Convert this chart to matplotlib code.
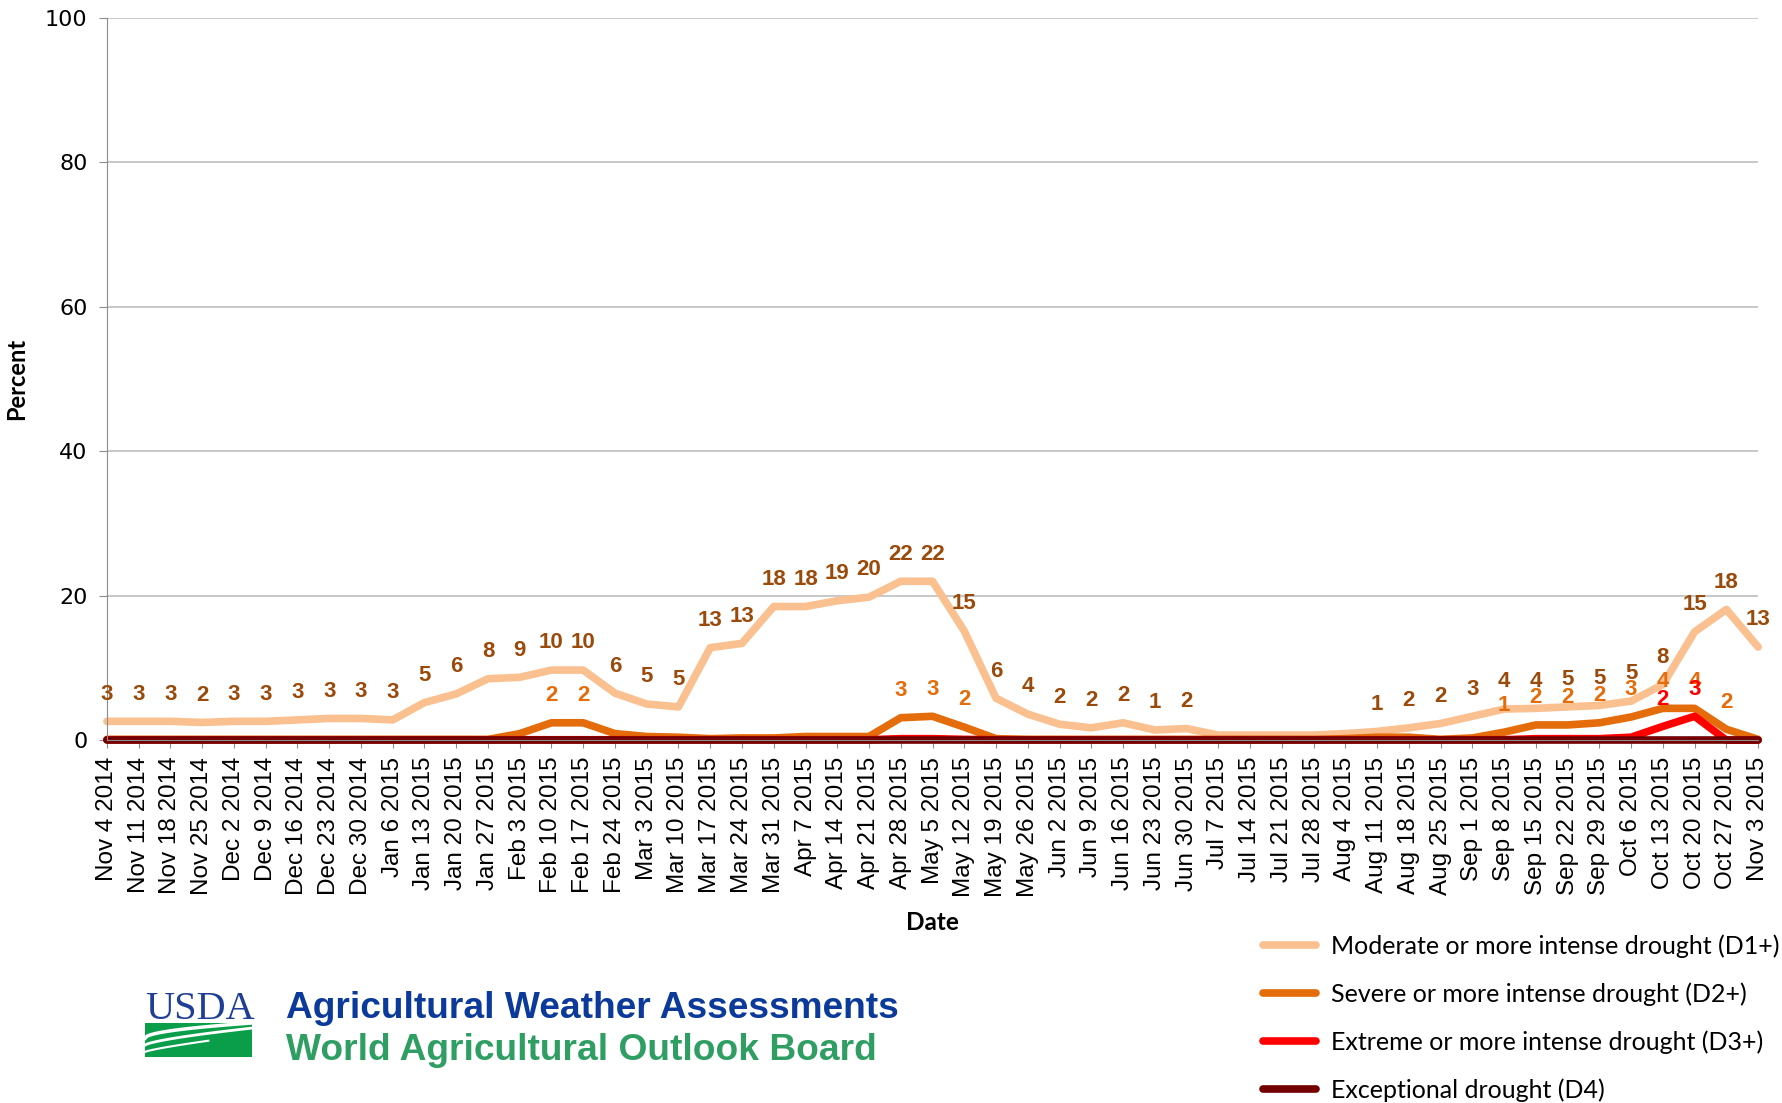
import matplotlib
matplotlib.use('Agg')
import matplotlib.pyplot as plt
import numpy as np
from matplotlib.lines import Line2D
from matplotlib.patches import Rectangle

dates = ['Nov 4 2014', 'Nov 11 2014', 'Nov 18 2014', 'Nov 25 2014', 'Dec 2 2014', 'Dec 9 2014',
         'Dec 16 2014', 'Dec 23 2014', 'Dec 30 2014', 'Jan 6 2015', 'Jan 13 2015', 'Jan 20 2015',
         'Jan 27 2015', 'Feb 3 2015', 'Feb 10 2015', 'Feb 17 2015', 'Feb 24 2015', 'Mar 3 2015',
         'Mar 10 2015', 'Mar 17 2015', 'Mar 24 2015', 'Mar 31 2015', 'Apr 7 2015', 'Apr 14 2015',
         'Apr 21 2015', 'Apr 28 2015', 'May 5 2015', 'May 12 2015', 'May 19 2015', 'May 26 2015',
         'Jun 2 2015', 'Jun 9 2015', 'Jun 16 2015', 'Jun 23 2015', 'Jun 30 2015', 'Jul 7 2015',
         'Jul 14 2015', 'Jul 21 2015', 'Jul 28 2015', 'Aug 4 2015', 'Aug 11 2015', 'Aug 18 2015',
         'Aug 25 2015', 'Sep 1 2015', 'Sep 8 2015', 'Sep 15 2015', 'Sep 22 2015', 'Sep 29 2015',
         'Oct 6 2015', 'Oct 13 2015', 'Oct 20 2015', 'Oct 27 2015', 'Nov 3 2015']

d1 = [2.6, 2.6, 2.6, 2.45, 2.6, 2.6, 2.8, 3.0, 3.0, 2.8, 5.2, 6.4,
      8.5, 8.7, 9.7, 9.7, 6.5, 5.0, 4.6, 12.8, 13.4, 18.5, 18.5, 19.3,
      19.8, 22.0, 22.0, 15.1, 5.8, 3.6, 2.2, 1.7, 2.4, 1.4, 1.6, 0.7,
      0.7, 0.7, 0.7, 0.9, 1.2, 1.7, 2.3, 3.3, 4.3, 4.4, 4.6, 4.8,
      5.4, 7.7, 15.0, 18.1, 12.9]
d2 = [0.1, 0.1, 0.1, 0.1, 0.1, 0.1, 0.1, 0.1, 0.1, 0.1, 0.1, 0.1,
      0.1, 0.9, 2.4, 2.4, 0.9, 0.5, 0.4, 0.2, 0.3, 0.3, 0.5, 0.5,
      0.5, 3.1, 3.3, 1.8, 0.2, 0.1, 0.1, 0.1, 0.1, 0.1, 0.1, 0.1,
      0.1, 0.1, 0.1, 0.2, 0.4, 0.4, 0.1, 0.3, 1.1, 2.1, 2.1, 2.4,
      3.2, 4.4, 4.4, 1.5, 0.1]
d3 = [0.05] * 25 + [0.2, 0.2, 0.1] + [0.05] * 17 + [0.2, 0.2, 0.2, 0.4, 1.9, 3.3, 0.0, 0.0]
d4 = [0.0] * 53

series_names = ['Moderate or more intense drought (D1+)', 'Severe or more intense drought (D2+)',
                'Extreme or more intense drought (D3+)', 'Exceptional drought (D4)']
line_colors = ['#FAC090', '#E46C0A', '#FF0000', '#730000']
label_colors = ['#9A4A0A', '#E46C0A', '#FF0000', '#730000']

fig = plt.figure(figsize=(17.82, 11.03), dpi=100)
ax = fig.add_axes([0.060, 0.329, 0.9266, 0.6546])

x = np.arange(len(dates))
for vals, lc, tc in zip([d1, d2, d3, d4], line_colors, label_colors):
    ax.plot(x, vals, color=lc, lw=5.5, solid_joinstyle='round', solid_capstyle='round', clip_on=False)
    for i, v in enumerate(vals):
        if v >= 1:
            ax.annotate('{0:.0f}'.format(v), (i, v), xytext=(0, 12), textcoords='offset points',
                        ha='center', va='bottom', fontsize=16, fontweight='bold',
                        family='Liberation Sans', color=tc)

ax.set_xlim(0, len(dates) - 1)
ax.set_ylim(0, 100)
ax.set_yticks(np.arange(0, 101, 20))
ax.set_xticks(x)
ax.set_xticklabels(dates, rotation=90, fontsize=17.5, family='Liberation Sans')
ax.tick_params(axis='y', labelsize=16, length=6, color='#8C8C8C', pad=8)
ax.tick_params(axis='x', length=6, color='#8C8C8C', pad=6)
ax.grid(True, axis='y', color='#BFBFBF', lw=1.2)
ax.set_axisbelow(True)
for s in ['top', 'right']:
    ax.spines[s].set_visible(False)
ax.spines['left'].set_color('#8C8C8C')
ax.spines['bottom'].set_color('#8C8C8C')
ax.set_ylabel('Percent', fontsize=17, fontweight='bold', family='Lato', labelpad=12)
ax.set_xlabel('Date', fontsize=17.5, fontweight='bold', family='Lato', labelpad=10)

handles = [Line2D([0], [0], color=c, lw=5.5, solid_capstyle='round') for c in line_colors]
fig.legend(handles, series_names, loc='upper left', bbox_to_anchor=(0.709, 0.153),
           frameon=False, prop={'family': 'Lato', 'size': 18},
           handlelength=2.1, handletextpad=0.6, labelspacing=0.98, borderpad=0, borderaxespad=0)

# logo block
fig.text(145 / 1782, 1 - 1019 / 1103, 'USDA', family='Liberation Serif', fontsize=29,
         color='#1F3E96', va='baseline')
lax = fig.add_axes([145 / 1782, 1 - 1057 / 1103, 107 / 1782, 34 / 1103])
lax.add_patch(Rectangle((0, 0), 1, 1, color='#0A9E4A'))
t = np.linspace(0, 1, 50)
lax.plot(t, 0.55 + 0.45 * np.sqrt(t), color='white', lw=2.5)
lax.plot(t, 0.35 + 0.5 * t ** 0.7, color='white', lw=2)
lax.plot(t[:30], 0.15 + 0.5 * t[:30] ** 0.8, color='white', lw=1.5)
lax.set_xlim(0, 1)
lax.set_ylim(0, 1)
lax.axis('off')

fig.text(286 / 1782, 1 - 1018 / 1103, 'Agricultural Weather Assessments',
         family='Liberation Sans', fontweight='bold', fontsize=26.7,
         color='#0B3A9A', va='baseline')
fig.text(286 / 1782, 1 - 1060 / 1103, 'World Agricultural Outlook Board',
         family='Liberation Sans', fontweight='bold', fontsize=26.7,
         color='#2F9E63', va='baseline')

plt.savefig('out.png', dpi=100)
